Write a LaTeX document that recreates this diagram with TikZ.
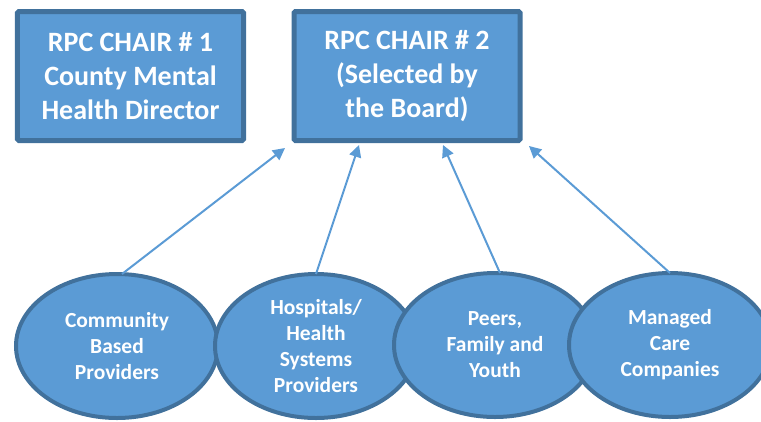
\documentclass[tikz,border=0pt]{standalone}
\usepackage{fontspec}
\setmainfont{Carlito}
\usetikzlibrary{shapes.geometric,arrows.meta}
\definecolor{fillblue}{HTML}{5B9BD5}
\definecolor{edgeblue}{HTML}{41719C}
\tikzset{
  chairbox/.style={draw=edgeblue, fill=fillblue, line width=5bp, rounded corners=1.5bp,
    minimum width=226bp, minimum height=129bp, inner sep=0pt, text=white,
    font=\fontsize{28bp}{34bp}\selectfont\bfseries, align=center},
  groupell/.style={ellipse, draw=edgeblue, fill=fillblue, line width=4bp,
    minimum width=202bp, minimum height=144bp, inner sep=0pt, outer sep=0pt, text=white,
    font=\fontsize{21.5bp}{26bp}\selectfont\bfseries, align=center},
  link/.style={draw=fillblue, line width=2bp, -{Triangle[length=12bp,width=12bp]}}
}
\begin{document}
\begin{tikzpicture}[x=1bp,y=-1bp]
\useasboundingbox (0,0) rectangle (761,421);
\begin{scope}
\clip (0,0) rectangle (761,421);
\node[chairbox] (c1) at (130.5,76) {RPC CHAIR \# 1\\County Mental\\Health Director};
\node[chairbox] (c2) at (407,76) {RPC CHAIR \# 2\\(Selected by\\the Board)};
\node[groupell] (e1) at (117,346) {Community\\Based\\Providers};
\node[groupell] (e2) at (316,346) {Hospitals/\\Health\\Systems\\Providers};
\node[groupell] (e3) at (495,345) {Peers,\\Family and\\Youth};
\node[groupell] (e4) at (670,345) {Managed\\Care\\Companies};
\end{scope}
\coordinate (t1) at (285,148);
\coordinate (t2) at (359,145);
\coordinate (t3) at (443,145);
\coordinate (t4) at (529,146);
\draw[link] ([xshift=5bp]e1.north) -- (t1);
\draw[link] (e2.north) -- (t2);
\draw[link] ([xshift=5bp]e3.north) -- (t3);
\draw[link] (e4.north) -- (t4);
\end{tikzpicture}
\end{document}
